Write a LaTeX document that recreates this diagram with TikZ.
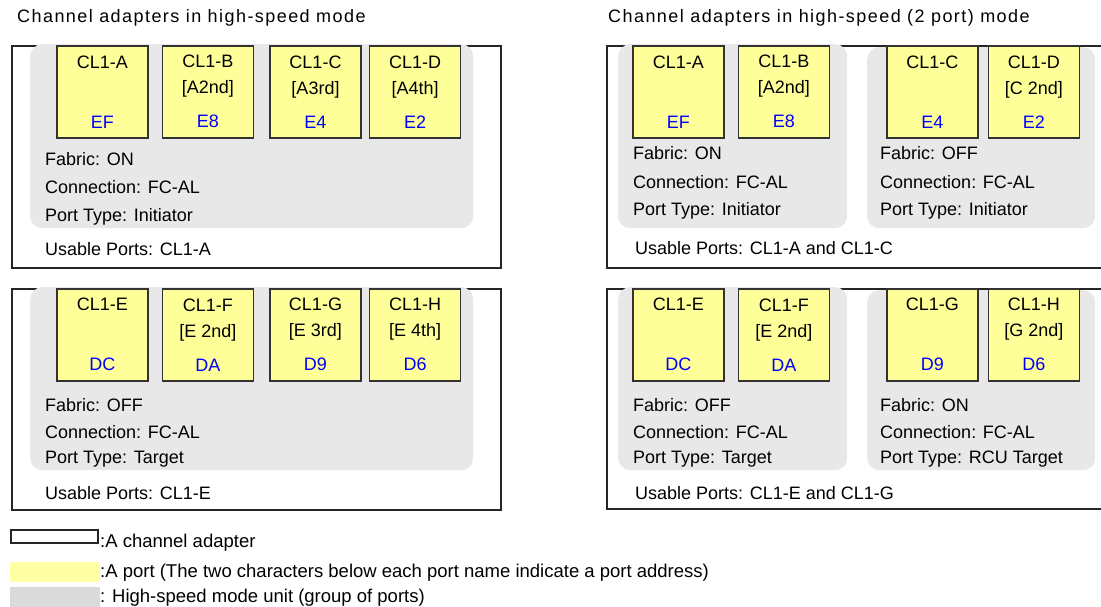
\documentclass[tikz,border=0pt]{standalone}
\usepackage{fontspec}
\setmainfont{Liberation Sans}
\newfontfamily\titlefont{Liberation Sans}[LetterSpace=8]
\usepackage{xcolor}
\usetikzlibrary{positioning}

\definecolor{portyellow}{HTML}{FFFF99}
\definecolor{unitgray}{HTML}{E8E8E8}
\definecolor{keygray}{HTML}{DADADA}
\definecolor{addrblue}{HTML}{0000FF}
\newcommand{\portaddr}[1]{\textcolor{addrblue}{#1}}

\begin{document}
\begin{tikzpicture}[
    x=1pt, y=-1pt,
    adapter/.style={rectangle, draw=black!85, line width=1.6pt, anchor=north west, inner sep=0pt},
    unit/.style={rectangle, rounded corners=12pt, fill=unitgray, anchor=north west, inner sep=0pt, minimum height=184pt},
    port/.style={rectangle, draw=black!80, line width=1.6pt, fill=portyellow, minimum width=91pt, minimum height=92pt,
        anchor=north west, align=center, inner sep=0pt, font=\fontsize{18}{26}\selectfont},
    info/.style={anchor=base west, inner sep=0pt, font=\fontsize{18}{22}\selectfont},
    heading/.style={anchor=west, inner sep=0pt, font=\fontsize{18}{22}\titlefont},
    keybox/.style={rectangle, anchor=north west, inner sep=0pt, minimum width=90pt, minimum height=20pt},
    keytext/.style={anchor=west, inner sep=0pt, font=\fontsize{18.5}{20}\selectfont}
]
\useasboundingbox (0,0) rectangle (1101,607);

% headings
\node[heading] (hLeft) at (17,18) {Channel adapters in high-speed mode};
\node[heading] (hRight) at (608,18) {Channel adapters in high-speed (2 port) mode};

% adapter boxes
\node[adapter, minimum width=489pt, minimum height=222pt] (adTL) at (11,45) {};
\node[adapter, minimum width=504pt, minimum height=222pt] (adTR) at (606,45) {};
\node[adapter, minimum width=489pt, minimum height=221pt] (adBL) at (11,288) {};
\node[adapter, minimum width=504pt, minimum height=220pt] (adBR) at (606,288) {};

% high-speed mode units
\node[unit, minimum width=443pt] (uTL) at (30,44) {};
\node[unit, minimum width=229pt] (uTR1) at (618,44) {};
\node[unit, minimum width=228pt, minimum height=181pt] (uTR2) at (867,47) {};
\node[unit, minimum width=443pt, minimum height=183pt] (uBL) at (30,287) {};
\node[unit, minimum width=229pt, minimum height=183pt] (uBR1) at (618,287) {};
\node[unit, minimum width=228pt, minimum height=180pt] (uBR2) at (867,290) {};

% ports, top left
\node[port] (tlA) at (56,45) {CL1-A\\\phantom{[A]}\\[8pt]\portaddr{EF}};
\node[port, right=13pt of tlA] (tlB) {CL1-B\\{[A2nd]}\\[8pt]\portaddr{E8}};
\node[port, right=15pt of tlB] (tlC) {CL1-C\\{[A3rd]}\\[8pt]\portaddr{E4}};
\node[port, right=7pt of tlC] (tlD) {CL1-D\\{[A4th]}\\[8pt]\portaddr{E2}};

% ports, top right
\node[port] (trA) at (632,45) {CL1-A\\\phantom{[A]}\\[8pt]\portaddr{EF}};
\node[port, right=13pt of trA] (trB) {CL1-B\\{[A2nd]}\\[8pt]\portaddr{E8}};
\node[port] (trC) at (886,45) {CL1-C\\\phantom{[A]}\\[8pt]\portaddr{E4}};
\node[port, right=9pt of trC] (trD) {CL1-D\\{[C 2nd]}\\[8pt]\portaddr{E2}};

% ports, bottom left
\node[port] (blE) at (56,288) {CL1-E\\\phantom{[A]}\\[8pt]\portaddr{DC}};
\node[port, right=13pt of blE] (blF) {CL1-F\\{[E 2nd]}\\[8pt]\portaddr{DA}};
\node[port, right=15pt of blF] (blG) {CL1-G\\{[E 3rd]}\\[8pt]\portaddr{D9}};
\node[port, right=7pt of blG] (blH) {CL1-H\\{[E 4th]}\\[8pt]\portaddr{D6}};

% ports, bottom right
\node[port] (brE) at (632,288) {CL1-E\\\phantom{[A]}\\[8pt]\portaddr{DC}};
\node[port, right=13pt of brE] (brF) {CL1-F\\{[E 2nd]}\\[8pt]\portaddr{DA}};
\node[port] (brG) at (886,288) {CL1-G\\\phantom{[A]}\\[8pt]\portaddr{D9}};
\node[port, right=9pt of brG] (brH) {CL1-H\\{[G 2nd]}\\[8pt]\portaddr{D6}};

% settings, top left
\node[info] (tlFab) at (45,165.5) {Fabric: ON};
\node[info] (tlCon) at (45,193.5) {Connection: FC-AL};
\node[info] (tlTyp) at (45,221.5) {Port Type: Initiator};
\node[info] (tlUse) at (45,255.5) {Usable Ports: CL1-A};

% settings, top right
\node[info] (tr1Fab) at (633,159.5) {Fabric: ON};
\node[info] (tr1Con) at (633,188.5) {Connection: FC-AL};
\node[info] (tr1Typ) at (633,215.5) {Port Type: Initiator};
\node[info] (tr2Fab) at (880,159.5) {Fabric: OFF};
\node[info] (tr2Con) at (880,188.5) {Connection: FC-AL};
\node[info] (tr2Typ) at (880,215.5) {Port Type: Initiator};
\node[info] (trUse) at (635,254.5) {Usable Ports: CL1-A and CL1-C};

% settings, bottom left
\node[info] (blFab) at (45,411.5) {Fabric: OFF};
\node[info] (blCon) at (45,438.5) {Connection: FC-AL};
\node[info] (blTyp) at (45,463.5) {Port Type: Target};
\node[info] (blUse) at (45,499.5) {Usable Ports: CL1-E};

% settings, bottom right
\node[info] (br1Fab) at (633,411.5) {Fabric: OFF};
\node[info] (br1Con) at (633,438.5) {Connection: FC-AL};
\node[info] (br1Typ) at (633,463.5) {Port Type: Target};
\node[info] (br2Fab) at (880,411.5) {Fabric: ON};
\node[info] (br2Con) at (880,438.5) {Connection: FC-AL};
\node[info] (br2Typ) at (880,463.5) {Port Type: RCU Target};
\node[info] (brUse) at (635,499.5) {Usable Ports: CL1-E and CL1-G};

% key
\node[keybox, draw=black!85, line width=1.5pt, minimum width=87pt, minimum height=13pt] (kAdapter) at (10,529) {};
\node[keybox, fill=portyellow!90!white] (kPort) at (10,562) {};
\node[keybox, fill=keygray, minimum height=22pt] (kUnit) at (10,587) {};
\node[keytext] (tAdapter) at (100,543) {:A channel adapter};
\node[keytext] (tPort) at (100,573) {:A port (The two characters below each port name indicate a port address)};
\node[keytext] (tUnit) at (100,598) {: High-speed mode unit (group of ports)};
\end{tikzpicture}
\end{document}
